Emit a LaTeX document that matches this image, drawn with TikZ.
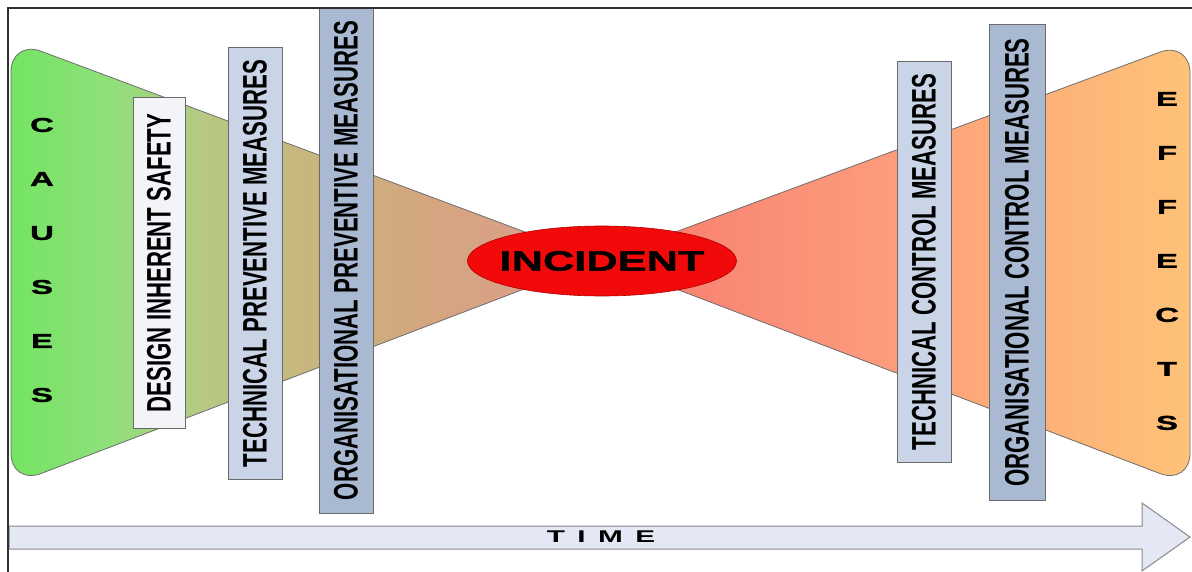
\documentclass[tikz,border=0pt]{standalone}
\usepackage{fontspec}
\setmainfont{Liberation Sans}
\newfontfamily\condfont{Liberation Sans}[FakeStretch=0.653]
\newfontfamily\widefont{Liberation Sans}[FakeStretch=1.65,FakeBold=1.5]
\newfontfamily\incfont{Liberation Sans}[FakeStretch=1.55,FakeBold=1.5]
\newfontfamily\timefont{Liberation Sans}[FakeStretch=1.75,WordSpace=1.5]
\usetikzlibrary{shapes.geometric}

\definecolor{cA}{HTML}{74E462}
\definecolor{cB}{HTML}{8EE07A}
\definecolor{cC}{HTML}{B4CA82}
\definecolor{cD}{HTML}{C8B67E}
\definecolor{cE}{HTML}{D4A67F}
\definecolor{cF}{HTML}{DA9F89}
\definecolor{cG}{HTML}{DE9C8C}
\definecolor{eA}{HTML}{F5786A}
\definecolor{eB}{HTML}{F98874}
\definecolor{eC}{HTML}{FC9A7C}
\definecolor{eD}{HTML}{FDA67A}
\definecolor{eE}{HTML}{FDB478}
\definecolor{eF}{HTML}{FEC278}
\definecolor{wedgeline}{HTML}{6E6E6E}
\definecolor{barline}{HTML}{6A6A6A}
\definecolor{barwhite}{HTML}{F2F4F8}
\definecolor{barlight}{HTML}{C9D5E6}
\definecolor{bardark}{HTML}{A9B9D2}
\definecolor{incred}{HTML}{F20A0A}
\definecolor{incline}{HTML}{B00000}
\definecolor{timefill}{HTML}{E4E8F4}
\definecolor{timeline}{HTML}{8A8A8A}
\definecolor{frameline}{HTML}{303030}

\pgfdeclarehorizontalshading{causeshade}{100bp}{color(0bp)=(cA); color(25bp)=(cA); color(33bp)=(cB); color(41bp)=(cC); color(50bp)=(cD); color(60bp)=(cE); color(70bp)=(cF); color(75bp)=(cG); color(100bp)=(cG)}
\pgfdeclarehorizontalshading{effectshade}{100bp}{color(0bp)=(eA); color(25bp)=(eA); color(35bp)=(eB); color(48bp)=(eC); color(55bp)=(eD); color(65bp)=(eE); color(75bp)=(eF); color(100bp)=(eF)}

\tikzset{
  wedge/.style={draw=wedgeline, line width=0.8pt, rounded corners=32pt},
  barbase/.style={draw=barline, line width=1pt, rotate=90, inner sep=0pt, anchor=center,
    font=\condfont\bfseries\fontsize{34}{34}\selectfont},
  barw/.style={barbase, fill=barwhite},
  barl/.style={barbase, fill=barlight},
  bard/.style={barbase, fill=bardark},
  stack/.style={align=center, inner sep=0pt, font=\widefont\bfseries\fontsize{20}{54}\selectfont},
}

\begin{document}
\begin{tikzpicture}[x=1pt,y=-1pt]
\useasboundingbox (0,0) rectangle (1192,572);
\fill[white] (0,0) rectangle (1192,572);

% wedges
\shadedraw[wedge, shading=causeshade] (600,260) -- (11,40) -- (11,485) -- cycle;
\shadedraw[wedge, shading=effectshade] (600,260) -- (1190,41) -- (1190,485) -- cycle;

% letters
\node[stack] (causes) at (42,260) {C\\A\\U\\S\\E\\S};
\node[stack] (effects) at (1167,261) {E\\F\\F\\E\\C\\T\\S};

% bars
\node[barw, minimum width=330pt, minimum height=52pt] (design) at (159,263) {DESIGN INHERENT SAFETY};
\node[barl, minimum width=431pt, minimum height=54pt] (techprev) at (255,263.5) {TECHNICAL PREVENTIVE MEASURES};
\node[bard, minimum width=505pt, minimum height=54pt] (orgprev) at (346,260.5) {ORGANISATIONAL PREVENTIVE MEASURES};
\node[barl, minimum width=400pt, minimum height=54pt] (techctl) at (924,262) {TECHNICAL CONTROL MEASURES};
\node[bard, minimum width=475pt, minimum height=56pt] (orgctl) at (1017,262.5) {ORGANISATIONAL CONTROL MEASURES};

% incident
\node[ellipse, fill=incred, draw=incline, line width=0.6pt, minimum width=269pt, minimum height=70pt, inner sep=0pt] (incident) at (602,261) {};
\node[font=\incfont\bfseries\fontsize{28}{28}\selectfont, inner sep=0pt] (incidenttext) at (incident.center) {INCIDENT};

% time arrow
\filldraw[fill=timefill, draw=timeline, line width=1pt]
  (9,526) -- (1142,526) -- (1142,503) -- (1190,537) -- (1142,571) -- (1142,549) -- (9,549) -- cycle;
\node[font=\timefont\bfseries\fontsize{17}{17}\selectfont, inner sep=0pt] (time) at (601,537) {T I M E};

% frame
\draw[frameline, line width=1.5pt] (8,572) -- (8,8) -- (1192,8);
\end{tikzpicture}
\end{document}
